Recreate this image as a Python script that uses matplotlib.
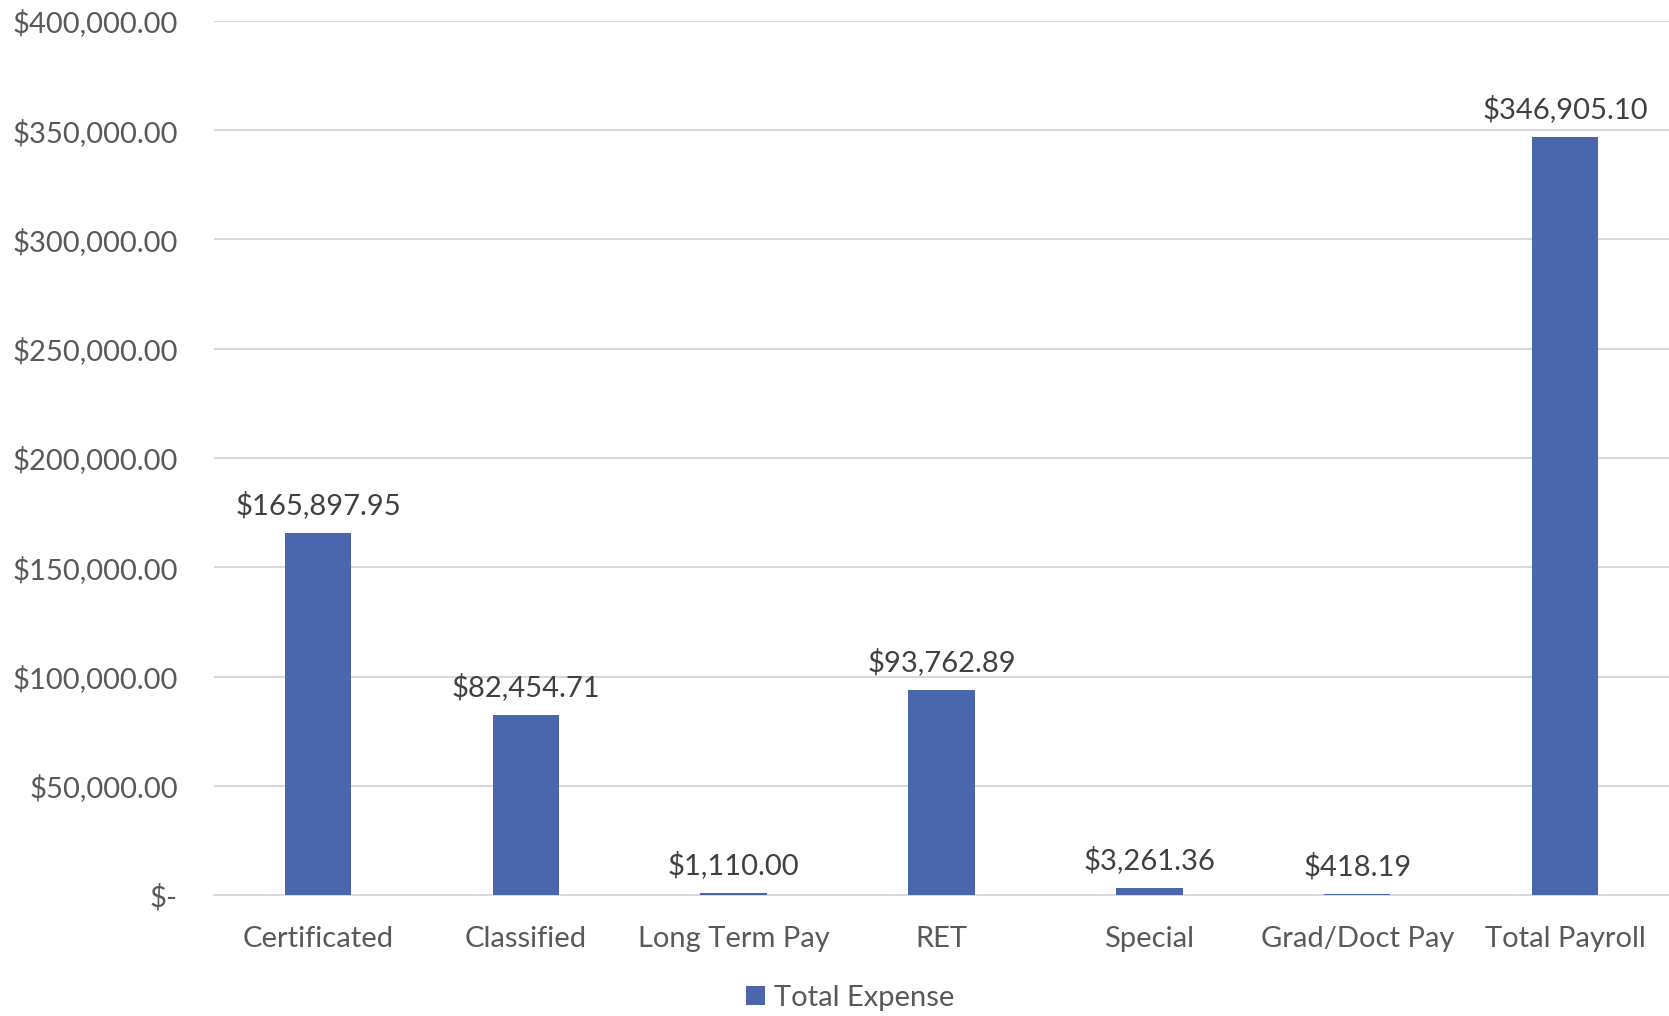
import matplotlib
matplotlib.use("Agg")
import matplotlib.pyplot as plt
from matplotlib.ticker import FuncFormatter

categories = ["Certificated", "Classified", "Long Term Pay", "RET", "Special", "Grad/Doct Pay", "Total Payroll"]
total_expense = [165897.95, 82454.71, 1110.00, 93762.89, 3261.36, 418.19, 346905.10]
y_ticks = [0, 50000, 100000, 150000, 200000, 250000, 300000, 350000, 400000]

bar_color = "#4A67AD"
text_color = "#595959"

plt.rcParams["font.family"] = ["Lato", "DejaVu Sans"]

fig = plt.figure(figsize=(16.69, 10.16), dpi=100)
ax = fig.add_axes([214 / 1669, 1 - 895 / 1016, 1455 / 1669, (895 - 21) / 1016])

x = list(range(len(categories)))
bars = ax.bar(x, total_expense, width=0.32, color=bar_color, label="Total Expense", zorder=3)

for xi, v in zip(x, total_expense):
    ax.annotate("${:,.2f}".format(v), (xi, v), xytext=(0, 10), textcoords="offset points",
                ha="center", va="bottom", fontsize=21, color="#404040")


def money(v, pos):
    if v == 0:
        return "$-"
    return "${:,.2f}".format(v)


ax.set_xlim(-0.5, len(categories) - 0.5)
ax.set_ylim(0, 400000)
ax.set_yticks(y_ticks)
ax.yaxis.set_major_formatter(FuncFormatter(money))
ax.set_xticks(x)
ax.set_xticklabels(categories)
ax.tick_params(axis="both", length=0, labelsize=21, labelcolor=text_color)
ax.tick_params(axis="y", pad=26)
ax.tick_params(axis="x", pad=22)
for lab in ax.get_yticklabels():
    lab.set_horizontalalignment("right")

ax.grid(axis="y", color="#D9D9D9", linewidth=1.5, zorder=0)
for s in ["top", "right", "left"]:
    ax.spines[s].set_visible(False)
ax.spines["bottom"].set_color("#D9D9D9")
ax.spines["bottom"].set_linewidth(1.5)

leg = fig.legend(handles=[bars], labels=["Total Expense"], loc="center", bbox_to_anchor=(799 * 1.0644 / 1669, 1 - 998 / 1016),
                 frameon=False, fontsize=21, handlelength=0.65, handleheight=0.65, handletextpad=0.3)
for t in leg.get_texts():
    t.set_color(text_color)

fig.savefig("out.png", dpi=100)
